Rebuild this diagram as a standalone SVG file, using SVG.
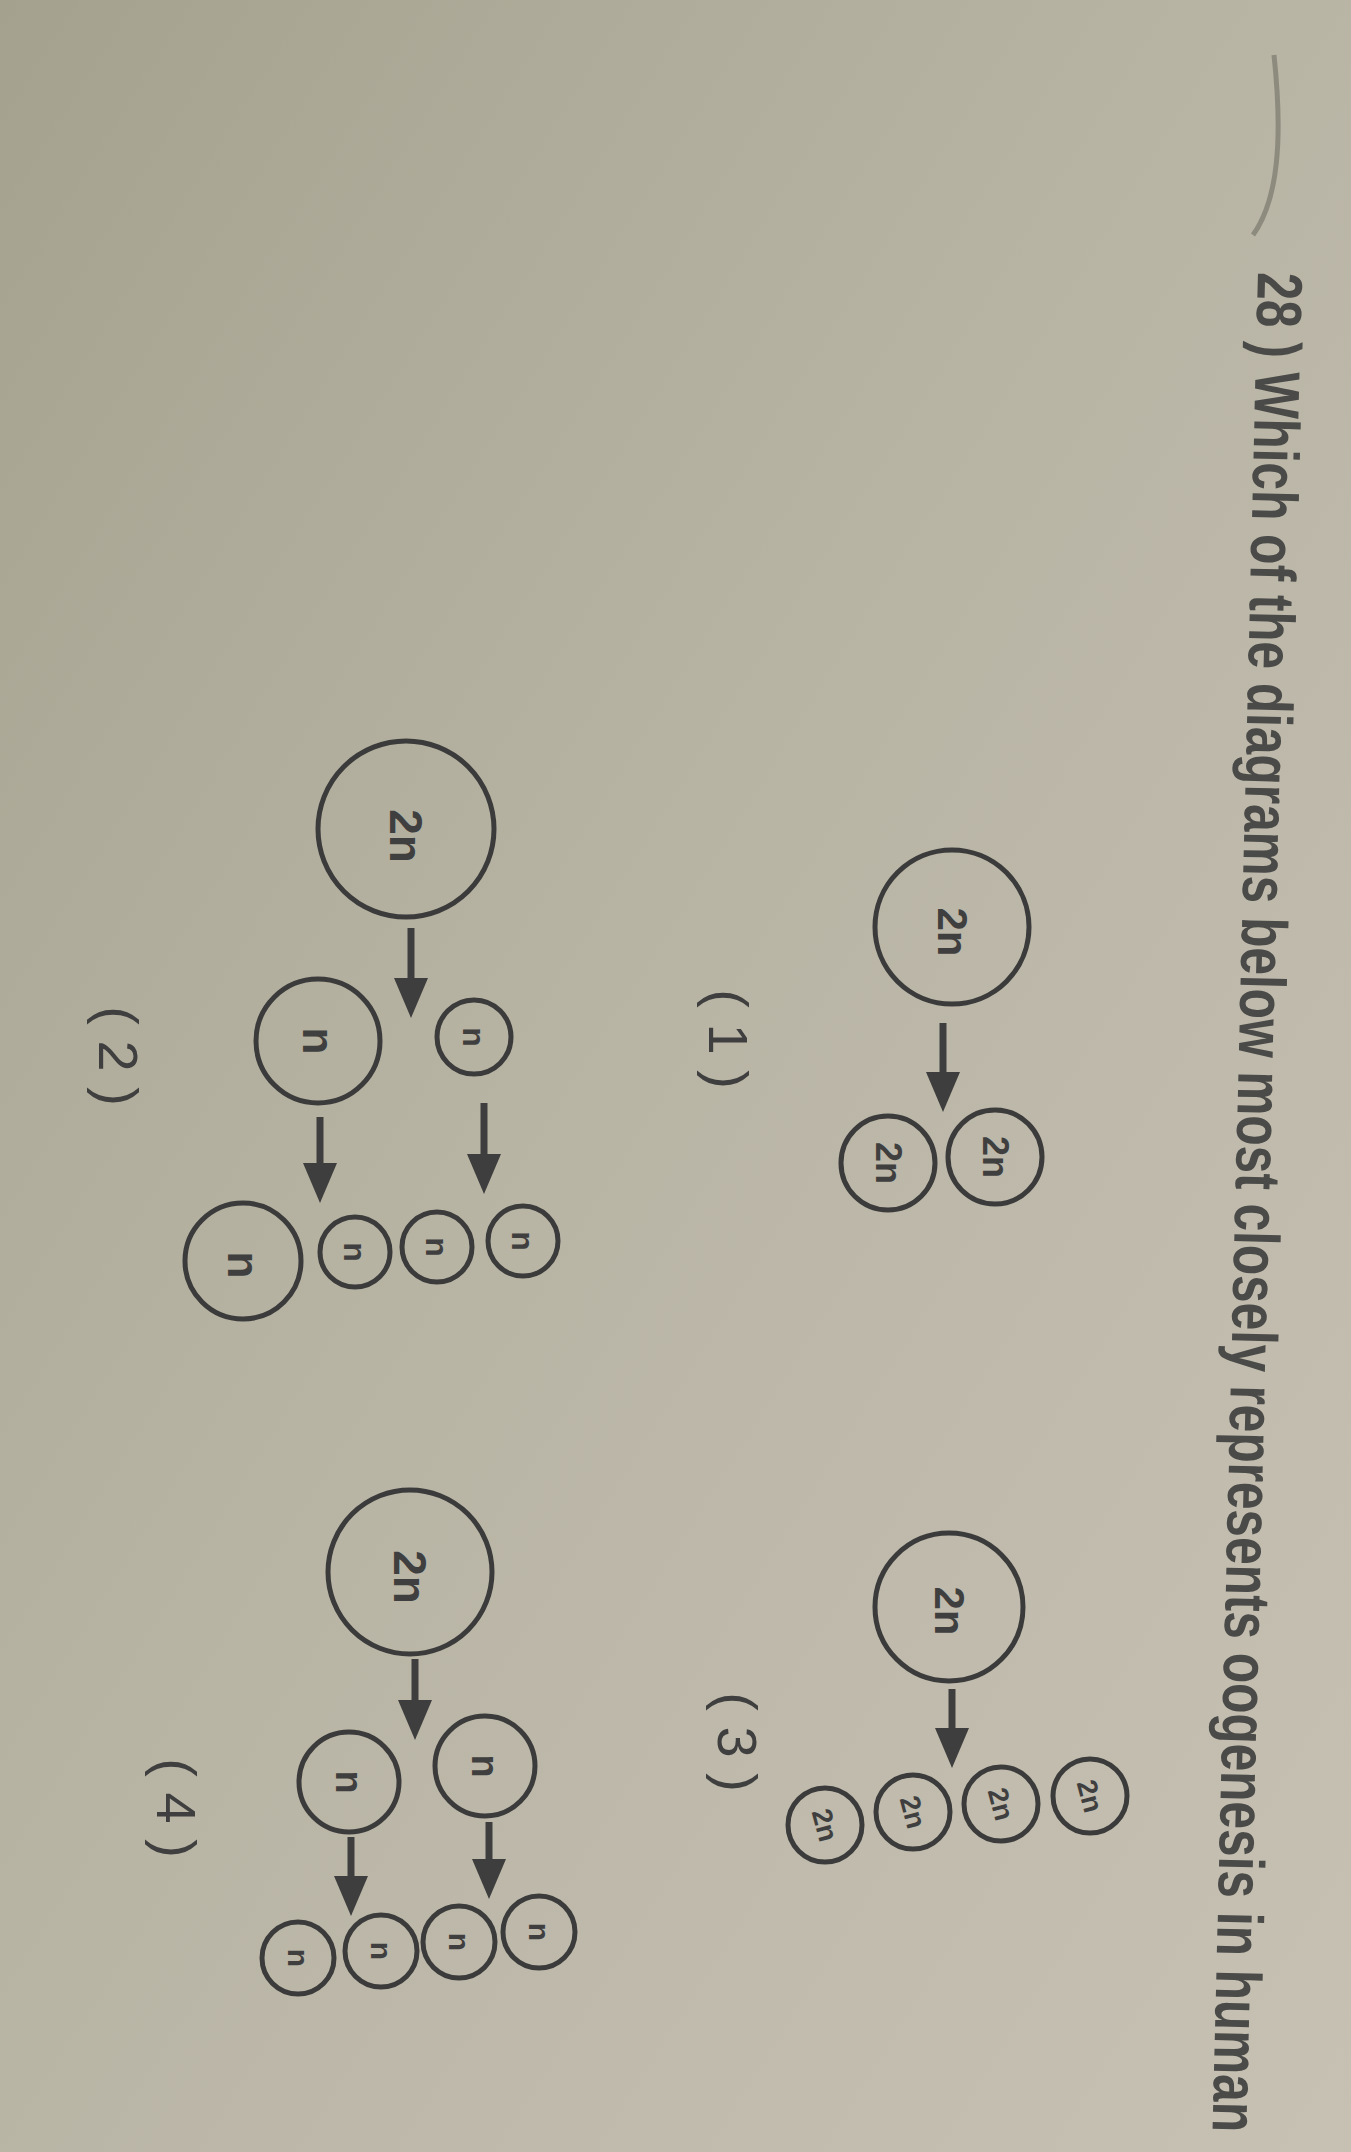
<svg xmlns="http://www.w3.org/2000/svg" width="1351" height="2152" viewBox="0 0 1351 2152">
<defs>
<linearGradient id="bg" x1="0" y1="0" x2="1" y2="1">
<stop offset="0" stop-color="#a4a28f"/>
<stop offset="0.45" stop-color="#b8b4a4"/>
<stop offset="1" stop-color="#c7c1b4"/>
</linearGradient>
<marker id="ah" viewBox="0 0 40 34" refX="20" refY="17" markerWidth="40" markerHeight="34" markerUnits="userSpaceOnUse" orient="auto">
<path d="M0,0 L40,17 L0,34 z" fill="#3e3e3e"/>
</marker>
</defs>
<style>
.c{fill:none;stroke:#3b3b3b;stroke-width:5}
.t{font-family:"Liberation Sans",Arial,sans-serif;font-weight:bold;fill:#3f3f3f;text-anchor:middle;dominant-baseline:central}
.q{font-family:"Liberation Sans",Arial,sans-serif;font-weight:bold;fill:#4a4a48;font-size:64px}
.lbl{font-family:"Liberation Sans",Arial,sans-serif;fill:#3f3f3f;font-size:56px;text-anchor:middle;dominant-baseline:central}
.a{stroke:#3e3e3e;stroke-width:7;fill:none}
</style>
<rect x="0" y="0" width="1351" height="2152" fill="url(#bg)"/>
<path d="M1274,55 C1283,140 1278,200 1253,235" fill="none" stroke="#8d8b7e" stroke-width="5"/>
<g id="question">
<text class="q" transform="translate(1258,272) rotate(91.4) scale(0.775,1)">28 ) Which of the diagrams below most closely represents oogenesis in human</text>
</g>
<g id="connectors">
<line class="a" x1="943" y1="1023" x2="943" y2="1092" marker-end="url(#ah)"/>
<line class="a" x1="411" y1="928" x2="411" y2="998" marker-end="url(#ah)"/>
<line class="a" x1="320" y1="1117" x2="320" y2="1183" marker-end="url(#ah)"/>
<line class="a" x1="484" y1="1103" x2="484" y2="1174" marker-end="url(#ah)"/>
<line class="a" x1="952" y1="1689" x2="952" y2="1748" marker-end="url(#ah)"/>
<line class="a" x1="415" y1="1659" x2="415" y2="1720" marker-end="url(#ah)"/>
<line class="a" x1="351" y1="1837" x2="351" y2="1896" marker-end="url(#ah)"/>
<line class="a" x1="489" y1="1822" x2="489" y2="1879" marker-end="url(#ah)"/>
</g>
<g id="d1-big"><circle class="c" cx="952" cy="927" r="77"/><text class="t" x="952" y="932" font-size="42" transform="rotate(90 952 932)">2n</text></g>
<g id="d1-s1"><circle class="c" cx="888" cy="1163" r="47"/><text class="t" x="888" y="1163" font-size="36" transform="rotate(90 888 1163)">2n</text></g>
<g id="d1-s2"><circle class="c" cx="995" cy="1157" r="47"/><text class="t" x="995" y="1157" font-size="36" transform="rotate(90 995 1157)">2n</text></g>
<g id="label1"><text class="lbl" x="728" y="1039" transform="rotate(90 728 1039)">( 1 )</text></g>

<g id="d2-big"><circle class="c" cx="406" cy="829" r="88"/><text class="t" x="406" y="836" font-size="46" transform="rotate(90 406 836)">2n</text></g>
<g id="d2-n1"><circle class="c" cx="318" cy="1041" r="62"/><text class="t" x="318" y="1041" font-size="44" transform="rotate(90 318 1041)">n</text></g>
<g id="d2-n2"><circle class="c" cx="474" cy="1037" r="37"/><text class="t" x="474" y="1037" font-size="32" transform="rotate(90 474 1037)">n</text></g>
<g id="d2-b1"><circle class="c" cx="243" cy="1261" r="58"/><text class="t" x="243" y="1265" font-size="44" transform="rotate(90 243 1265)">n</text></g>
<g id="d2-b2"><circle class="c" cx="355" cy="1252" r="35"/><text class="t" x="355" y="1252" font-size="32" transform="rotate(90 355 1252)">n</text></g>
<g id="d2-b3"><circle class="c" cx="437" cy="1247" r="35"/><text class="t" x="437" y="1247" font-size="32" transform="rotate(90 437 1247)">n</text></g>
<g id="d2-b4"><circle class="c" cx="523" cy="1241" r="35"/><text class="t" x="523" y="1241" font-size="32" transform="rotate(90 523 1241)">n</text></g>
<g id="label2"><text class="lbl" x="118" y="1056" transform="rotate(90 118 1056)">( 2 )</text></g>

<g id="d3-big"><circle class="c" cx="949" cy="1607" r="74"/><text class="t" x="949" y="1611" font-size="42" transform="rotate(90 949 1611)">2n</text></g>
<g id="d3-s1"><circle class="c" cx="825" cy="1825" r="37"/><text class="t" x="825" y="1825" font-size="28" transform="rotate(75 825 1825)">2n</text></g>
<g id="d3-s2"><circle class="c" cx="913" cy="1812" r="37"/><text class="t" x="913" y="1812" font-size="28" transform="rotate(75 913 1812)">2n</text></g>
<g id="d3-s3"><circle class="c" cx="1001" cy="1804" r="37"/><text class="t" x="1001" y="1804" font-size="28" transform="rotate(75 1001 1804)">2n</text></g>
<g id="d3-s4"><circle class="c" cx="1090" cy="1796" r="37"/><text class="t" x="1090" y="1796" font-size="28" transform="rotate(75 1090 1796)">2n</text></g>
<g id="label3"><text class="lbl" x="737" y="1742" transform="rotate(90 737 1742)">( 3 )</text></g>

<g id="d4-big"><circle class="c" cx="410" cy="1572" r="82"/><text class="t" x="410" y="1577" font-size="46" transform="rotate(90 410 1577)">2n</text></g>
<g id="d4-n1"><circle class="c" cx="349" cy="1782" r="50"/><text class="t" x="349" y="1782" font-size="38" transform="rotate(90 349 1782)">n</text></g>
<g id="d4-n2"><circle class="c" cx="485" cy="1766" r="50"/><text class="t" x="485" y="1766" font-size="38" transform="rotate(90 485 1766)">n</text></g>
<g id="d4-b1"><circle class="c" cx="298" cy="1958" r="36"/><text class="t" x="298" y="1958" font-size="30" transform="rotate(90 298 1958)">n</text></g>
<g id="d4-b2"><circle class="c" cx="381" cy="1951" r="36"/><text class="t" x="381" y="1951" font-size="30" transform="rotate(90 381 1951)">n</text></g>
<g id="d4-b3"><circle class="c" cx="459" cy="1942" r="36"/><text class="t" x="459" y="1942" font-size="30" transform="rotate(90 459 1942)">n</text></g>
<g id="d4-b4"><circle class="c" cx="539" cy="1932" r="36"/><text class="t" x="539" y="1932" font-size="30" transform="rotate(90 539 1932)">n</text></g>
<g id="label4"><text class="lbl" x="176" y="1808" transform="rotate(90 176 1808)">( 4 )</text></g>
</svg>
